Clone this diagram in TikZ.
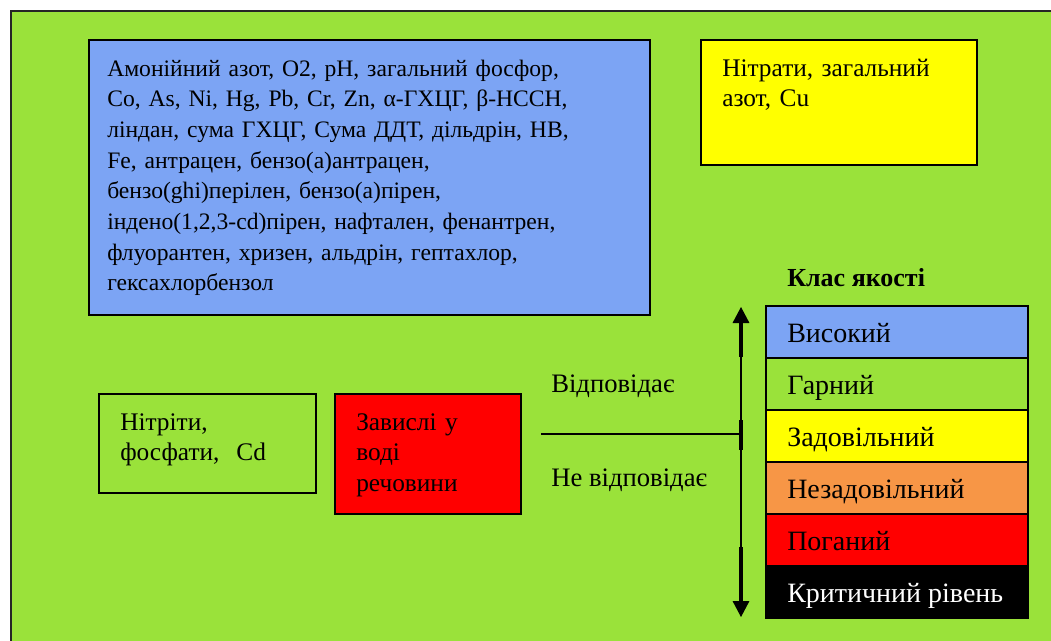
\documentclass[tikz,border=0pt]{standalone}
\usepackage{fontspec}
\setmainfont{Liberation Serif}
\usetikzlibrary{arrows.meta,fit}
\definecolor{bggreen}{RGB}{154,226,58}
\definecolor{boxblue}{RGB}{124,164,244}
\definecolor{boxorange}{RGB}{247,150,70}
\definecolor{boxyellow}{RGB}{255,255,0}
\definecolor{boxred}{RGB}{255,0,0}
\begin{document}
\begin{tikzpicture}[x=0.75pt,y=-0.75pt,
  box/.style={draw=black, line width=1.4pt, inner sep=0pt},
  rowbox/.style={draw=black, line width=1.1pt, inner sep=0pt},
  txt/.style={anchor=base west, inner sep=0pt, font=\fontsize{17.7}{23}\selectfont, text width=500pt, align=left},
  stxt/.style={txt, font=\fontsize{19}{23}\selectfont},
  lt/.style={anchor=base west, inner sep=0pt, font=\fontsize{21}{24}\selectfont},
  thinline/.style={line width=0.8pt},
  thickline/.style={line width=2.4pt}]
\useasboundingbox (0,0) rectangle (1051,640);
\clip (0,0) rectangle (1051,640);
\draw[fill=bggreen, draw=black!85, line width=1.6pt] (11,11) rectangle (1070,660);
% boxes
\node[box, fill=boxblue, fit={(89,40) (650,315)}] (blue) {};
\node[txt] (bluetext) at (107,76) {Амонійний азот, O2, pH, загальний фосфор,\\
Co, As, Ni, Hg, Pb, Cr, Zn, α-ГХЦГ, β-НССН,\\
ліндан, сума ГХЦГ, Сума ДДТ, дільдрін, НВ,\\
Fe, антрацен, бензо(а)антрацен,\\
бензо(ghi)перілен, бензо(а)пірен,\\
індено(1,2,3-cd)пірен, нафтален, фенантрен,\\
флуорантен, хризен, альдрін, гептахлор,\\
гексахлорбензол};
\node[box, fill=boxyellow, fit={(701,40) (977,165)}] (yellow) {};
\node[stxt] (yellowtext) at (722,76) {Нітрати, загальний\\ азот, Cu};
\node[box, fill=bggreen, fit={(99,394) (316,493)}] (nitr) {};
\node[stxt] (nitrtext) at (120,430) {Нітріти,\\ фосфати,\ \ Cd};
\node[box, fill=boxred, fit={(335,394) (521,514)}] (susp) {};
\node[stxt] (susptext) at (356,430) {Завислі у\\ воді\\ речовини};
% labels
\node[lt, font=\fontsize{20}{24}\selectfont] (yes) at (551,392) {Відповідає};
\node[lt, font=\fontsize{20}{24}\selectfont] (no) at (551,486) {Не відповідає};
\node[lt, font=\fontsize{19.5}{22}\selectfont\bfseries] (title) at (787,286) {Клас якості};
% legend rows
\node[rowbox, fill=boxblue, fit={(766,306) (1028,358)}] (r1) {};
\node[rowbox, fill=bggreen, fit={(766,358) (1028,410)}] (r2) {};
\node[rowbox, fill=boxyellow, fit={(766,410) (1028,462)}] (r3) {};
\node[rowbox, fill=boxorange, fit={(766,462) (1028,514)}] (r4) {};
\node[rowbox, fill=boxred, fit={(766,514) (1028,566)}] (r5) {};
\node[rowbox, fill=black, fit={(766,566) (1028,618)}] (r6) {};
\node[lt] (t1) at (787,342) {Високий};
\node[lt] (t2) at (787,394) {Гарний};
\node[lt] (t3) at (787,446) {Задовільний};
\node[lt] (t4) at (787,498) {Незадовільний};
\node[lt] (t5) at (787,550) {Поганий};
\node[lt, text=white] (t6) at (787,602) {Критичний рівень};
% axis
\coordinate (atop) at (741,307);
\coordinate (abot) at (741,617);
\coordinate (amid) at (741,434);
\coordinate (lstart) at (541,434);
\draw[thinline, {Triangle[length=12pt,width=12.5pt]}-{Triangle[length=12pt,width=12.5pt]}] (atop) -- (abot);
\draw[thickline] (741,322) -- (741,357);
\draw[thickline] (741,547) -- (741,603);
\draw[thickline] (741,420) -- (741,450);
\draw[line width=1.3pt] (lstart) -- (amid);
\end{tikzpicture}
\end{document}
